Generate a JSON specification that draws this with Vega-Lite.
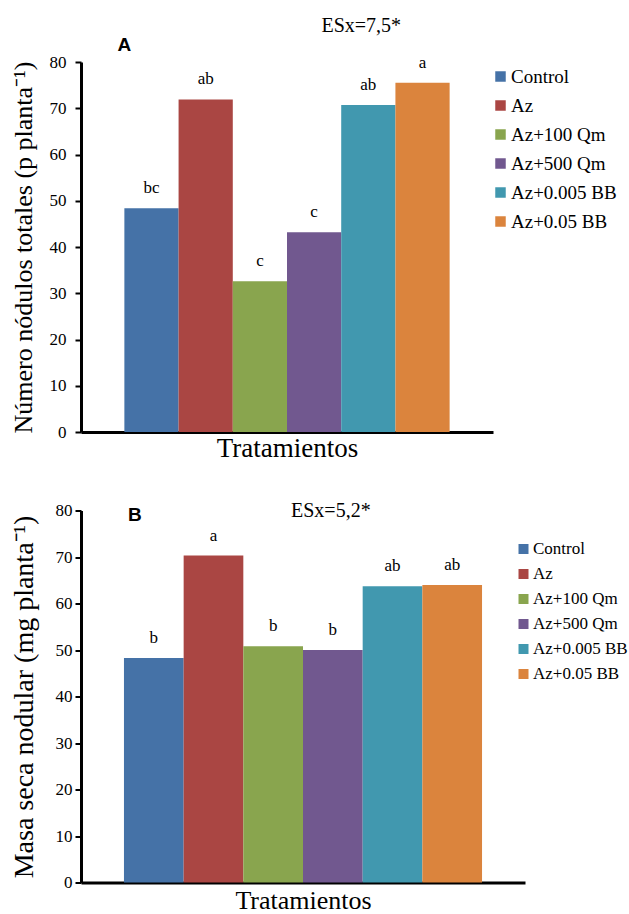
{
  "$schema": "https://vega.github.io/schema/vega-lite/v6.json",
  "autosize": {"type": "pad"},
  "padding": {"left": 10, "top": 16, "right": 5, "bottom": 3},
  "background": "white",
  "datasets": {
    "nodulos": [
      {"tratamiento": "Control", "valor": 48.4, "letra": "bc"},
      {"tratamiento": "Az", "valor": 71.9, "letra": "ab"},
      {"tratamiento": "Az+100 Qm", "valor": 32.6, "letra": "c"},
      {"tratamiento": "Az+500 Qm", "valor": 43.2, "letra": "c"},
      {"tratamiento": "Az+0.005 BB", "valor": 70.7, "letra": "ab"},
      {"tratamiento": "Az+0.05 BB", "valor": 75.5, "letra": "a"}
    ],
    "masa": [
      {"tratamiento": "Control", "valor": 48.3, "letra": "b"},
      {"tratamiento": "Az", "valor": 70.3, "letra": "a"},
      {"tratamiento": "Az+100 Qm", "valor": 50.8, "letra": "b"},
      {"tratamiento": "Az+500 Qm", "valor": 50.0, "letra": "b"},
      {"tratamiento": "Az+0.005 BB", "valor": 63.7, "letra": "ab"},
      {"tratamiento": "Az+0.05 BB", "valor": 64.0, "letra": "ab"}
    ],
    "rotA": [{"rotulo": "A", "esx": "ESx=7,5*"}],
    "rotB": [{"rotulo": "B", "esx": "ESx=5,2*"}]
  },
  "config": {
    "font": "Liberation Serif",
    "view": {"stroke": null},
    "axis": {
      "domainColor": "black", "domainWidth": 3, "tickColor": "black", "tickWidth": 2,
      "labelColor": "black", "titleColor": "black", "titleFontWeight": "normal",
      "labelFont": "Liberation Serif", "titleFont": "Liberation Serif", "grid": false
    },
    "legend": {
      "orient": "none", "title": null, "symbolType": "square", "symbolStrokeWidth": 0,
      "labelFont": "Liberation Serif", "labelColor": "black", "labelOffset": 1
    }
  },
  "bounds": "flush",
  "spacing": 78.5,
  "resolve": {"scale": {"color": "independent"}, "legend": {"color": "independent"}},
  "vconcat": [
    {
      "width": 412,
      "height": 370,
      "layer": [
        {
          "data": {"name": "nodulos"},
          "mark": {"type": "bar"},
          "encoding": {
            "x": {
              "field": "tratamiento", "type": "nominal",
              "scale": {"domain": ["Control", "Az", "Az+100 Qm", "Az+500 Qm", "Az+0.005 BB", "Az+0.05 BB"], "paddingInner": 0, "paddingOuter": 0.8},
              "axis": {"title": "Tratamientos", "labels": false, "ticks": false, "titleFont": "Liberation Serif", "titleFontSize": 27, "titlePadding": 3}
            },
            "y": {
              "field": "valor", "type": "quantitative",
              "scale": {"domain": [0, 80]},
              "axis": {"values": [0, 10, 20, 30, 40, 50, 60, 70, 80], "title": "Número nódulos totales (p planta⁻¹)",
                       "tickSize": 6, "labelFont": "Liberation Serif", "labelFontSize": 17, "labelPadding": 9,
                       "titleFont": "Liberation Serif", "titleFontSize": 26, "titlePadding": 13}
            },
            "color": {
              "field": "tratamiento", "type": "nominal",
              "scale": {"domain": ["Control", "Az", "Az+100 Qm", "Az+500 Qm", "Az+0.005 BB", "Az+0.05 BB"],
                        "range": ["#4572A7", "#AA4643", "#89A54E", "#71588F", "#4198AF", "#DB843D"]},
              "legend": {"legendX": 410, "legendY": 5, "labelFont": "Liberation Serif", "labelFontSize": 19, "rowPadding": 9, "symbolSize": 110}
            }
          }
        },
        {
          "data": {"name": "nodulos"},
          "mark": {"type": "text", "dy": -20, "baseline": "middle", "font": "Liberation Serif", "fontSize": 17, "color": "black"},
          "encoding": {
            "x": {"field": "tratamiento", "type": "nominal"},
            "y": {"field": "valor", "type": "quantitative"},
            "text": {"field": "letra"}
          }
        },
        {
          "data": {"name": "rotA"},
          "mark": {"type": "text", "font": "Liberation Sans", "fontWeight": "bold", "fontSize": 19, "baseline": "middle", "align": "center", "color": "black", "dx": -27},
          "encoding": {"x": {"datum": "Control", "type": "nominal"}, "y": {"datum": 83.7, "type": "quantitative"}, "text": {"field": "rotulo", "type": "nominal"}}
        },
        {
          "data": {"name": "rotA"},
          "mark": {"type": "text", "font": "Liberation Serif", "fontSize": 20, "baseline": "middle", "align": "center", "color": "black", "dx": -7},
          "encoding": {"x": {"datum": "Az+0.005 BB", "type": "nominal"}, "y": {"datum": 87.7, "type": "quantitative"}, "text": {"field": "esx", "type": "nominal"}}
        }
      ]
    },
    {
      "width": 444,
      "height": 372,
      "layer": [
        {
          "data": {"name": "masa"},
          "mark": {"type": "bar"},
          "encoding": {
            "x": {
              "field": "tratamiento", "type": "nominal",
              "scale": {"domain": ["Control", "Az", "Az+100 Qm", "Az+500 Qm", "Az+0.005 BB", "Az+0.05 BB"], "paddingInner": 0, "paddingOuter": 0.72},
              "axis": {"title": "Tratamientos", "labels": false, "ticks": false, "titleFont": "Liberation Serif", "titleFontSize": 26, "titlePadding": 5}
            },
            "y": {
              "field": "valor", "type": "quantitative",
              "scale": {"domain": [0, 80]},
              "axis": {"values": [0, 10, 20, 30, 40, 50, 60, 70, 80], "title": "Masa seca nodular (mg planta⁻¹)",
                       "tickSize": 6, "labelFont": "Liberation Serif", "labelFontSize": 17, "labelPadding": 3,
                       "titleFont": "Liberation Serif", "titleFontSize": 28, "titlePadding": 17}
            },
            "color": {
              "field": "tratamiento", "type": "nominal",
              "scale": {"domain": ["Control", "Az", "Az+100 Qm", "Az+500 Qm", "Az+0.005 BB", "Az+0.05 BB"],
                        "range": ["#4572A7", "#AA4643", "#89A54E", "#71588F", "#4198AF", "#DB843D"]},
              "legend": {"legendX": 434, "legendY": 30, "labelFont": "Liberation Serif", "labelFontSize": 17, "rowPadding": 7, "symbolSize": 100}
            }
          }
        },
        {
          "data": {"name": "masa"},
          "mark": {"type": "text", "dy": -20, "baseline": "middle", "font": "Liberation Serif", "fontSize": 17, "color": "black"},
          "encoding": {
            "x": {"field": "tratamiento", "type": "nominal"},
            "y": {"field": "valor", "type": "quantitative"},
            "text": {"field": "letra"}
          }
        },
        {
          "data": {"name": "rotB"},
          "mark": {"type": "text", "font": "Liberation Sans", "fontWeight": "bold", "fontSize": 19, "baseline": "middle", "align": "center", "color": "black", "dx": -19},
          "encoding": {"x": {"datum": "Control", "type": "nominal"}, "y": {"datum": 79.1, "type": "quantitative"}, "text": {"field": "rotulo", "type": "nominal"}}
        },
        {
          "data": {"name": "rotB"},
          "mark": {"type": "text", "font": "Liberation Serif", "fontSize": 20, "baseline": "middle", "align": "center", "color": "black", "dx": -2},
          "encoding": {"x": {"datum": "Az+500 Qm", "type": "nominal"}, "y": {"datum": 79.8, "type": "quantitative"}, "text": {"field": "esx", "type": "nominal"}}
        }
      ]
    }
  ]
}
